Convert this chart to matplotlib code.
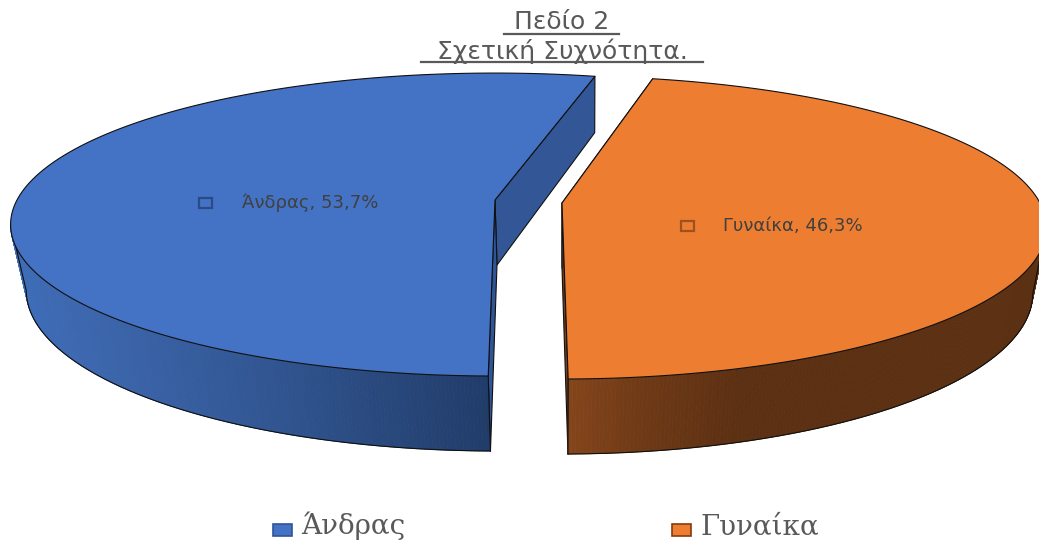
import numpy as np
import matplotlib
matplotlib.use("Agg")
import matplotlib.pyplot as plt
from matplotlib.collections import PolyCollection
from matplotlib.patches import Polygon, Rectangle
from matplotlib.colors import to_rgb

categories = ["Άνδρας", "Γυναίκα"]
shares = [53.7, 46.3]
title_lines = ["Πεδίο 2", "Σχετική Συχνότητα."]

W, H = 1039, 542
fig = plt.figure(figsize=(W / 100, H / 100), dpi=100)
ax = fig.add_axes([0, 0, 1, 1])
ax.set_xlim(0, W)
ax.set_ylim(H, 0)
ax.axis("off")

START_A, START_B = 76.0, 77.3
A_TOP, B_TOP, K_TOP = 478.0, 147.5, 0.162
A_BOT, B_BOT, K_BOT = 465.0, 157.0, 0.156


def project(theta, cx, cy, a, b, k):
    t = np.radians(theta)
    X, Y = np.cos(t), np.sin(t)
    w = 1 + k * Y
    return cx + a * X / w, cy - b * Y / w


def ramp(xs, stops):
    px = [s[0] for s in stops]
    cols = np.array([to_rgb(s[1]) for s in stops])
    return np.column_stack([np.interp(xs, px, cols[:, i]) for i in range(3)])


def slice3d(t0, t1, wall0, apex, low_apex, top_col, flat_col, sliver_col, stops, z):
    th = np.linspace(t0, t1, 260)
    tx, ty = project(th, apex[0], apex[1], A_TOP, B_TOP, K_TOP)
    bx, by = project(th, low_apex[0], low_apex[1], A_BOT, B_BOT, K_BOT)
    kw = dict(edgecolor="#101010", linewidth=0.8, joinstyle="round")
    # flat wall on the cut at the start angle
    ax.add_patch(Polygon([apex, (tx[0], ty[0]), (bx[0], by[0]), low_apex],
                         facecolor=flat_col, zorder=z, **kw))
    # flat wall on the cut at the end angle
    ax.add_patch(Polygon([apex, (tx[-1], ty[-1]), (bx[-1], by[-1]), low_apex],
                         facecolor=sliver_col, zorder=z + 0.1, **kw))
    # outer curved wall (only the near, visible part), shaded along x
    wth = np.linspace(wall0, t1, 200)
    wx, wy = project(wth, apex[0], apex[1], A_TOP, B_TOP, K_TOP)
    vx, vy = project(wth, low_apex[0], low_apex[1], A_BOT, B_BOT, K_BOT)
    quads = [[(wx[i], wy[i]), (wx[i + 1], wy[i + 1]), (vx[i + 1], vy[i + 1]), (vx[i], vy[i])]
             for i in range(len(wth) - 1)]
    shade = ramp((wx[:-1] + wx[1:]) / 2, stops)
    ax.add_collection(PolyCollection(quads, facecolors=shade, edgecolors=shade,
                                     linewidths=0.6, zorder=z + 0.2))
    ax.plot(np.r_[wx[0], vx], np.r_[wy[0], vy], color="#101010", lw=0.8, zorder=z + 0.3)
    ax.plot([wx[-1], vx[-1]], [wy[-1], vy[-1]], color="#101010", lw=0.8, zorder=z + 0.3)
    # top face
    pts = np.vstack([[apex], np.column_stack([tx, ty])])
    ax.add_patch(Polygon(pts, closed=True, facecolor=top_col, zorder=z + 0.4, **kw))


sweep = [s / sum(shares) * 360 for s in shares]
slice3d(START_A, START_A + sweep[0], 189.2, (495, 200), (497, 265), "#4472c4", "#335796", "#2f5597",
        [(11, "#3f6db8"), (120, "#3a63a8"), (280, "#30548f"), (488, "#213c69")], 2)
slice3d(START_B, START_B - sweep[1], -9.2, (562, 203), (562, 268), "#ed7d31", "#5c3012", "#7a3f18",
        [(568, "#84451b"), (640, "#6f3a17"), (740, "#5c3012"), (1039, "#5c3012")], 3)

# title
for line, y, x0, x1, ybar in zip(title_lines, (22, 51), (504, 421), (619, 703), (33.5, 62)):
    ax.text((x0 + x1) / 2, y, line, ha="center", va="center", fontsize=18,
            family="DejaVu Sans", color="#595959", zorder=6)
    ax.plot([x0, x1], [ybar, ybar], color="#595959", lw=1.6, zorder=6)

# data labels
for name, val, lx, ly, sx, sc in zip(categories, shares, (242, 723), (203, 226), (199, 681),
                                     ("#2a4b85", "#9c5220")):
    ax.add_patch(Rectangle((sx, ly - 5), 13, 9.5, facecolor="none", edgecolor=sc, lw=1.6, zorder=6))
    txt = f"{name}, {val:.1f}%".replace(".", ",")
    ax.text(lx, ly, txt, ha="left", va="center", fontsize=13, family="DejaVu Sans",
            color="#404040", zorder=6)

# legend
for name, sx, tx, fc, ec in zip(categories, (273, 672), (301, 700), ("#4472c4", "#ed7d31"),
                                ("#2f5597", "#843c0c")):
    ax.add_patch(Rectangle((sx, 524), 19, 12, facecolor=fc, edgecolor=ec, lw=1.2, zorder=6))
    ax.text(tx, 534.5, name, ha="left", va="baseline", fontsize=20,
            family="DejaVu Serif", color="#595959", zorder=6)

fig.savefig("out.png", dpi=100, facecolor="white")
